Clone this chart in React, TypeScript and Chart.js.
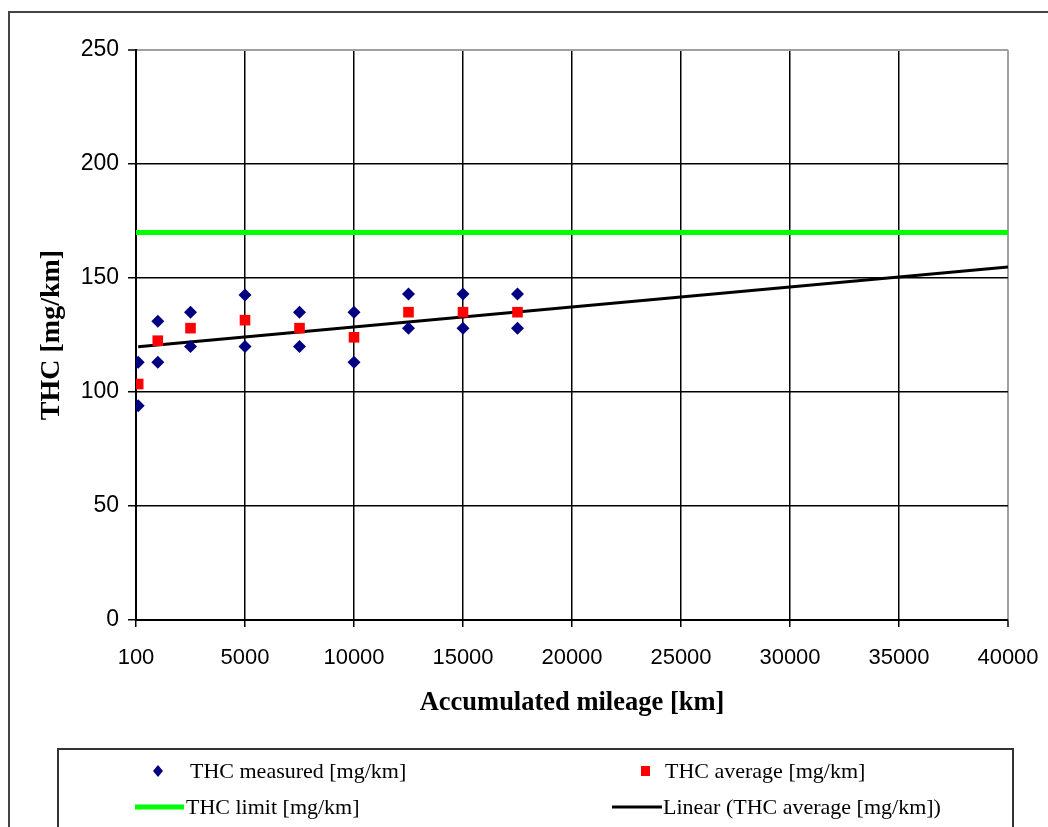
import React, { useEffect, useRef } from "react";
import { Chart, registerables } from "chart.js";

Chart.register(...registerables);

// ---- data ----
const xTickLabels = ["100", "5000", "10000", "15000", "20000", "25000", "30000", "35000", "40000"];

const measuredMileage = [100, 100, 1000, 1000, 2500, 2500, 5000, 5000, 7500, 7500, 10000, 10000, 12500, 12500, 15000, 15000, 17500, 17500];
const measuredValues = [113, 94, 131, 113, 135, 120, 142.5, 120, 135, 120, 135, 113, 143, 128, 143, 128, 143, 128];

const averageMileage = [100, 1000, 2500, 5000, 7500, 10000, 12500, 15000, 17500];
const averageValues = [103.5, 122.5, 128, 131.5, 128, 124, 135, 135, 135];

const limitMileage = [0, 40000];
const limitValues = [170, 170];

const trendMileage = [100, 40000];
const trendValues = [119.8, 154.8];

const seriesLabels = [
  "THC measured [mg/km]",
  "THC average [mg/km]",
  "THC limit [mg/km]",
  "Linear (THC average [mg/km])",
];

const xTitle = "Accumulated mileage [km]";
const yTitle = "THC [mg/km]";

const toPoints = (xs: number[], ys: number[]) => xs.map((x, i) => ({ x, y: ys[i] }));

const frameLegendPlugin = {
  id: "frameLegend",
  afterDraw(chart: any) {
    const ctx = chart.ctx as CanvasRenderingContext2D;
    const ds = chart.data.datasets;
    ctx.save();
    // outer frame
    ctx.strokeStyle = "#444";
    ctx.lineWidth = 2;
    ctx.strokeRect(9, 12, 1100, 900);
    // legend box
    ctx.strokeStyle = "#333";
    ctx.lineWidth = 2;
    ctx.strokeRect(58, 749, 955, 200);

    ctx.font = '22px "Liberation Serif"';
    ctx.fillStyle = "#000";
    ctx.textBaseline = "middle";
    ctx.textAlign = "left";

    // measured (diamond)
    const r1 = 6;
    ctx.fillStyle = ds[0].backgroundColor;
    ctx.beginPath();
    ctx.moveTo(158, 771 - r1);
    ctx.lineTo(158 + r1 - 1, 771);
    ctx.lineTo(158, 771 + r1);
    ctx.lineTo(158 - r1 + 1, 771);
    ctx.closePath();
    ctx.fill();
    ctx.fillStyle = "#000";
    ctx.fillText(ds[0].label, 190, 772);

    // average (square)
    ctx.fillStyle = ds[1].backgroundColor;
    ctx.fillRect(641, 766, 9, 10);
    ctx.fillStyle = "#000";
    ctx.fillText(ds[1].label, 665, 772);

    // limit line
    ctx.strokeStyle = ds[2].borderColor;
    ctx.lineWidth = ds[2].borderWidth;
    ctx.beginPath();
    ctx.moveTo(135, 807);
    ctx.lineTo(184, 807);
    ctx.stroke();
    ctx.fillText(ds[2].label, 186, 808);

    // trend line
    ctx.strokeStyle = ds[3].borderColor;
    ctx.lineWidth = ds[3].borderWidth;
    ctx.beginPath();
    ctx.moveTo(612, 807);
    ctx.lineTo(662, 807);
    ctx.stroke();
    ctx.fillText(ds[3].label, 663, 808);
    ctx.restore();
  },
};

export default function App() {
  const ref = useRef<HTMLCanvasElement | null>(null);

  useEffect(() => {
    if (!ref.current) return;
    const chart = new Chart(ref.current, {
      type: "scatter",
      data: {
        datasets: [
          {
            label: seriesLabels[0],
            data: toPoints(measuredMileage, measuredValues),
            pointStyle: "rectRot",
            pointRadius: 6.5,
            backgroundColor: "#000080",
            borderColor: "#000080",
            borderWidth: 0,
            showLine: false,
          },
          {
            label: seriesLabels[1],
            data: toPoints(averageMileage, averageValues),
            pointStyle: "rect",
            pointRadius: 7.5,
            backgroundColor: "#ff0000",
            borderColor: "#ff0000",
            borderWidth: 0,
            showLine: false,
          },
          {
            label: seriesLabels[2],
            data: toPoints(limitMileage, limitValues),
            showLine: true,
            pointRadius: 0,
            borderColor: "#00ff00",
            backgroundColor: "#00ff00",
            borderWidth: 5,
          },
          {
            label: seriesLabels[3],
            data: toPoints(trendMileage, trendValues),
            showLine: true,
            pointRadius: 0,
            borderColor: "#000000",
            backgroundColor: "#000000",
            borderWidth: 3,
          },
        ],
      },
      options: {
        responsive: false,
        animation: false,
        devicePixelRatio: 1,
        layout: { padding: { left: 0, top: 50, right: 40, bottom: 0 } },
        plugins: { legend: { display: false }, tooltip: { enabled: false } },
        scales: {
          x: {
            type: "linear",
            min: 0,
            max: 40000,
            ticks: {
              stepSize: 5000,
              autoSkip: false,
              maxRotation: 0,
              padding: 18,
              color: "#000",
              font: { family: '"Liberation Sans"', size: 22 },
              callback: (_v: any, i: number) => xTickLabels[i],
            },
            grid: {
              color: (c: any) => (c.tick && c.tick.value === 40000 ? "#a0a0a0" : "#000"),
              lineWidth: (c: any) => (c.tick && c.tick.value === 40000 ? 2 : 1.5),
              tickLength: 7,
              tickColor: "#000",
              tickWidth: 1.5,
            },
            border: { color: "#000", width: 2 },
            title: {
              display: true,
              text: xTitle,
              color: "#000",
              font: { family: '"Liberation Serif"', size: 26.5, weight: "bold" },
              padding: { top: 0, bottom: 108 },
            },
            afterFit: (s: any) => {
              s.height = 207;
              s.paddingLeft = 0;
              s.paddingRight = 0;
            },
          },
          y: {
            type: "linear",
            min: 0,
            max: 250,
            ticks: {
              stepSize: 50,
              padding: 9,
              color: "#000",
              font: { family: '"Liberation Sans"', size: 23 },
            },
            grid: {
              color: (c: any) => (c.tick && c.tick.value === 250 ? "#a0a0a0" : "#000"),
              lineWidth: (c: any) => (c.tick && c.tick.value === 250 ? 2 : 1.5),
              tickLength: 8,
              tickColor: "#000",
              tickWidth: 1.5,
            },
            border: { color: "#000", width: 2 },
            title: {
              display: true,
              text: yTitle,
              color: "#000",
              font: { family: '"Liberation Serif"', size: 28, weight: "bold" },
              padding: { top: 35, bottom: 0 },
            },
            afterFit: (s: any) => {
              s.width = 136;
              s.paddingTop = 0;
              s.paddingBottom = 0;
            },
          },
        },
      } as any,
      plugins: [frameLegendPlugin],
    });
    return () => chart.destroy();
  }, []);

  return (
    <div style={{ position: "absolute", left: 0, top: 0, width: 1048, height: 827, background: "#fff" }}>
      <canvas ref={ref} width={1048} height={827} style={{ display: "block", width: 1048, height: 827 }} />
    </div>
  );
}
